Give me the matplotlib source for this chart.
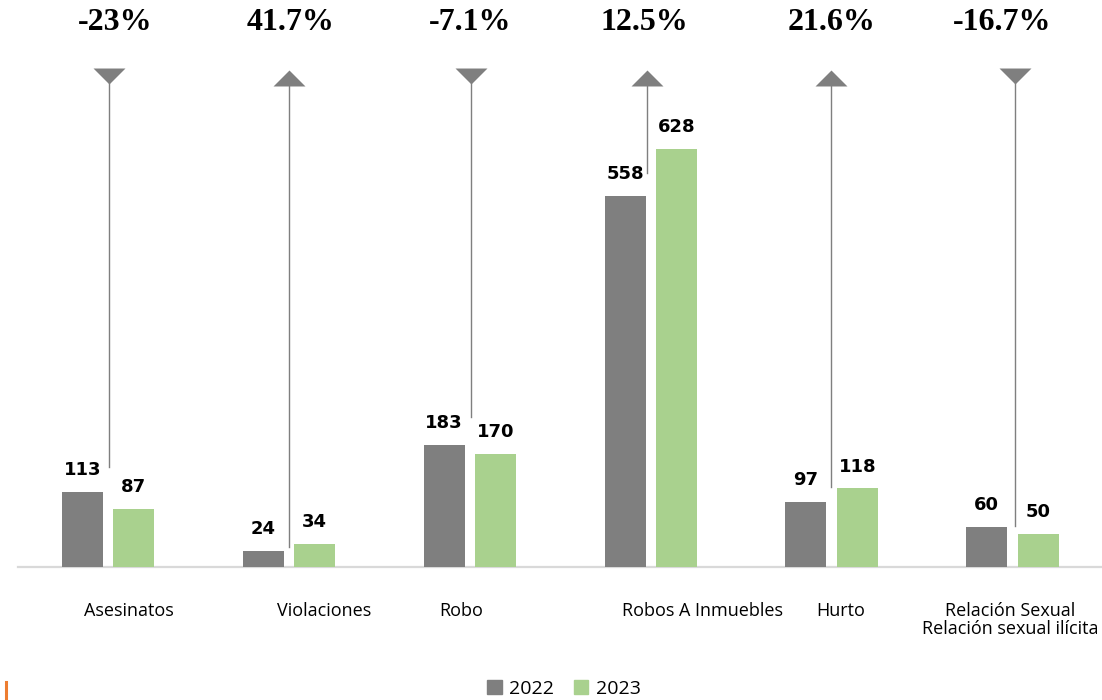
import matplotlib
matplotlib.use("Agg")
import matplotlib.pyplot as plt
from matplotlib.patches import Patch
from matplotlib.path import Path
import numpy as np

categories = ["Asesinatos", "Violaciones", "Robo", "Robos A Inmuebles", "Hurto",
              "Relación Sexual\nRelación sexual ilícita"]
values_2022 = [113, 24, 183, 558, 97, 60]
values_2023 = [87, 34, 170, 628, 118, 50]
pct_change = ["-23%", "41.7%", "-7.1%", "12.5%", "21.6%", "-16.7%"]
direction = ["down", "up", "down", "up", "up", "down"]
connector_end = [150, 30, 225, 592, 120, 62]

GRAY = "#7f7f7f"
GREEN = "#a9d18e"
W, H = 1102, 700
PX = 0.6656  # pixels per unit on the y axis
LABEL_FONT = ["Open Sans", "DejaVu Sans"]

fig = plt.figure(figsize=(W / 100, H / 100), dpi=100)
ax = fig.add_axes([17.5 / W, 133 / H, 1085.5 / W, 567 / H])
ymax = 567 / PX
ax.set_xlim(-0.5, len(categories) - 0.5)
ax.set_ylim(0, ymax)
for s in ax.spines.values():
    s.set_visible(False)
ax.set_xticks([])
ax.set_yticks([])
ax.axhline(0, color="#d9d9d9", lw=1.6, zorder=1, clip_on=False)

x = np.arange(len(categories))
bw = 0.2265
off = 0.142
b1 = ax.bar(x - off, values_2022, bw, color=GRAY, zorder=2)
b2 = ax.bar(x + off, values_2023, bw, color=GREEN, zorder=2)

for bars, vals in [(b1, values_2022), (b2, values_2023)]:
    for r, v in zip(bars, vals):
        ax.annotate(str(v), (r.get_x() + r.get_width() / 2, v), xytext=(0, 15.8),
                    textcoords="offset points", ha="center", va="center",
                    fontsize=13, fontweight="bold", color="black",
                    family="DejaVu Sans")

# flatter triangles than the built-in markers
tri_down = Path([(-1, 0.5), (1, 0.5), (0, -0.5), (-1, 0.5)], closed=True)
tri_up = Path([(-1, -0.5), (1, -0.5), (0, 0.5), (-1, -0.5)], closed=True)
tri_y = {"down": (567 - 76) / 567 * ymax, "up": (567 - 78.5) / 567 * ymax}

# small horizontal nudges (in pixels) seen in the original layout
conn_shift = [1, 0, 1, -4, -1, 2]
pct_shift = [7, 2, 0, -6, 0, -10]
unit = 1 / 181  # data units per pixel on x

for i in range(len(categories)):
    ty = tri_y[direction[i]]
    cx = x[i] + conn_shift[i] * unit
    ax.plot([cx, cx], [connector_end[i], ty], color=GRAY, lw=1.0, zorder=3)
    ax.plot(cx, ty, marker=tri_down if direction[i] == "down" else tri_up,
            markersize=23, color=GRAY, markeredgewidth=0, zorder=4)
    ax.text(x[i] + pct_shift[i] * unit, (567 - 23) / 567 * ymax, pct_change[i],
            ha="center", va="center", fontsize=23, fontweight="bold",
            family="Liberation Serif", color="black")

label_shift = [0.113, 0.196, -0.05, 0.287, 0.05, -0.011]
for i, lab in enumerate(categories):
    ax.text(x[i] + label_shift[i], -35 / PX, lab, ha="center", va="top",
            fontsize=13, family=LABEL_FONT, color="black",
            linespacing=1.0, clip_on=False)

handles = [Patch(color=GRAY, label="2022"), Patch(color=GREEN, label="2023")]
fig.legend(handles=handles, loc="center", bbox_to_anchor=(564 / W, 11 / H), ncol=2,
           frameon=False, handlelength=0.75, handleheight=0.75, handletextpad=0.4,
           columnspacing=1.0, prop={"family": LABEL_FONT, "size": 14})

# small orange mark at the bottom-left corner of the original
fig.add_artist(plt.Line2D([6 / W, 6 / W], [0, 18 / H], color="#ed7d31", lw=2.2))

fig.savefig("out.png", dpi=100)
